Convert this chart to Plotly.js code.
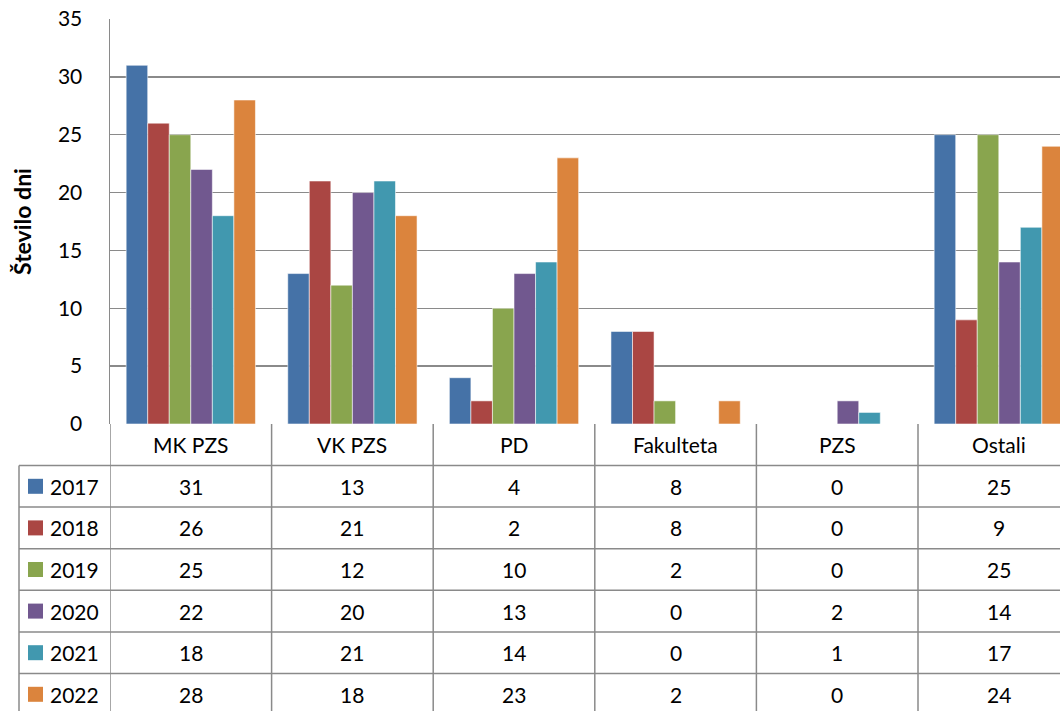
<!DOCTYPE html>
<html>
<head>
<meta charset="utf-8">
<script src="https://cdn.plot.ly/plotly-3.0.1.min.js"></script>
<style>html,body{margin:0;padding:0;background:#fff}#chart{width:1060px;height:711px}</style>
</head>
<body>
<div id="chart"></div>
<script>
const categories = ['MK PZS', 'VK PZS', 'PD', 'Fakulteta', 'PZS', 'Ostali'];
const years = ['2017', '2018', '2019', '2020', '2021', '2022'];
const v2017 = [31, 13, 4, 8, 0, 25];
const v2018 = [26, 21, 2, 8, 0, 9];
const v2019 = [25, 12, 10, 2, 0, 25];
const v2020 = [22, 20, 13, 0, 2, 14];
const v2021 = [18, 21, 14, 0, 1, 17];
const v2022 = [28, 18, 23, 2, 0, 24];
const seriesValues = [v2017, v2018, v2019, v2020, v2021, v2022];
const colors = ['#4572A7', '#AA4643', '#89A54E', '#71588F', '#4198AF', '#DB843D'];
const yTickVals = [0, 5, 10, 15, 20, 25, 30, 35];

const FONT = 'Lato, "Open Sans", sans-serif';
const W = 1060, H = 711;
const mL = 110, mT = 19, plotBottom = 424;
const plotH = plotBottom - mT, plotW = W - mL;
const py = Y => (plotBottom - Y) / plotH;
const px = X => (X - mL) / plotW;
const headerBottom = 465.5;
const rowH = 41.6;
const gridColor = '#8a8a8a';

const idx = categories.map((c, i) => i);
const traces = seriesValues.map((vals, s) => ({
  type: 'bar',
  x: idx,
  y: vals,
  name: years[s],
  marker: {color: colors[s], line: {color: 'rgba(255,255,255,0.55)', width: 1}},
  hoverinfo: 'y+name'
}));

const shapes = [];
const annotations = [];
const lineYs = [headerBottom];
for (let r = 1; r <= years.length; r++) lineYs.push(headerBottom + r * rowH);
lineYs.forEach(Y => {
  shapes.push({type: 'line', xref: 'paper', yref: 'paper', x0: px(19), x1: 1.05, y0: py(Y), y1: py(Y), line: {color: gridColor, width: 1.5}});
});
for (let i = 0; i <= categories.length; i++) {
  shapes.push({type: 'line', xref: 'x', yref: 'paper', x0: i - 0.5, x1: i - 0.5, y0: 0, y1: py(H + 5), line: {color: gridColor, width: 1.5}});
}
shapes.push({type: 'line', xref: 'paper', yref: 'paper', x0: px(19), x1: px(19), y0: py(headerBottom), y1: py(H + 5), line: {color: gridColor, width: 1.5}});

categories.forEach((c, i) => {
  annotations.push({xref: 'x', yref: 'paper', x: i, y: py((plotBottom + headerBottom) / 2), text: c, showarrow: false,
    xanchor: 'center', yanchor: 'middle', font: {family: FONT, size: 21, color: '#000'}});
});
years.forEach((yr, r) => {
  const yc = headerBottom + rowH * r + rowH / 2;
  shapes.push({type: 'rect', xref: 'paper', yref: 'paper', x0: px(28), x1: px(43), y0: py(yc - 7.5), y1: py(yc + 7.5),
    fillcolor: colors[r], line: {width: 0}});
  annotations.push({xref: 'paper', yref: 'paper', x: px(48), y: py(yc), text: yr, showarrow: false,
    xanchor: 'left', yanchor: 'middle', font: {family: FONT, size: 21, color: '#000'}});
  seriesValues[r].forEach((v, i) => {
    annotations.push({xref: 'x', yref: 'paper', x: i, y: py(yc), text: String(v), showarrow: false,
      xanchor: 'center', yanchor: 'middle', font: {family: FONT, size: 21, color: '#000'}});
  });
});

const layout = {
  width: W, height: H,
  margin: {l: mL, r: 0, t: mT, b: H - plotBottom, pad: 0},
  paper_bgcolor: '#fff', plot_bgcolor: '#fff',
  showlegend: false,
  barmode: 'group',
  bargap: 0.2,
  bargroupgap: 0,
  font: {family: FONT, color: '#000'},
  xaxis: {
    range: [-0.5, -0.5 + plotW / 161.6],
    showticklabels: false, showgrid: false, zeroline: false,
    showline: false, ticks: '', fixedrange: true
  },
  yaxis: {
    range: [0, 35], tickvals: yTickVals, ticktext: yTickVals.map(String),
    showgrid: true, gridcolor: gridColor, gridwidth: 1.5,
    zeroline: false, showline: true, linecolor: gridColor, linewidth: 1.5,
    ticks: 'outside', ticklen: 0, ticklabelstandoff: 22,
    tickfont: {family: FONT, size: 21, color: '#000'},
    title: {text: '<b>Število dni</b>', font: {family: FONT, size: 23, color: '#000'}, standoff: 20},
    fixedrange: true
  },
  shapes: shapes,
  annotations: annotations
};

Plotly.newPlot('chart', traces, layout, {displayModeBar: false, staticPlot: true});
</script>
</body>
</html>
